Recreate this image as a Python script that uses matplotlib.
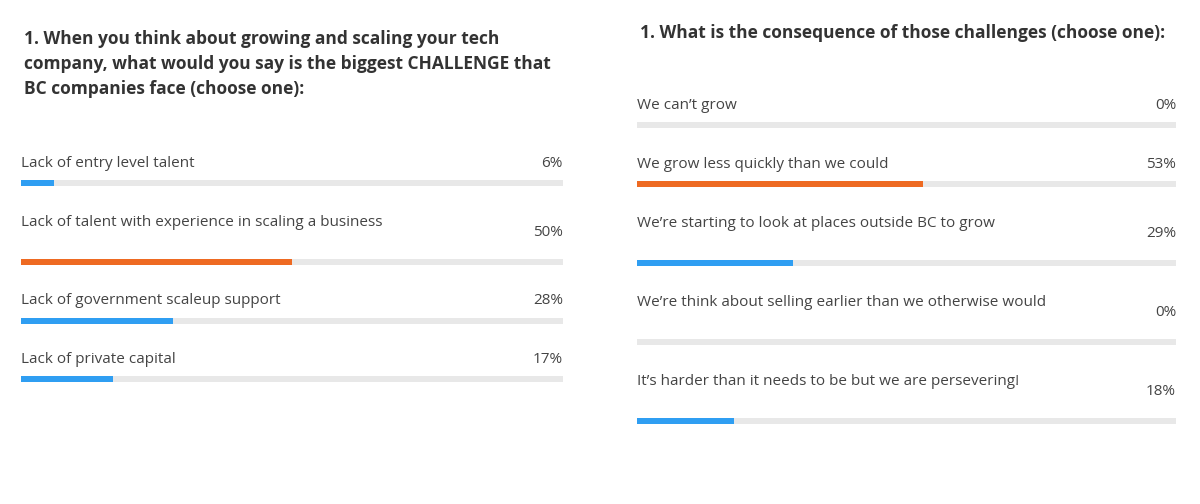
import matplotlib
matplotlib.use("Agg")
import matplotlib.pyplot as plt

plt.rcParams['font.family'] = ['Open Sans', 'DejaVu Sans']

# Dati del sondaggio (pannello sinistro)
left_title = ("1. When you think about growing and scaling your tech\n"
              "company, what would you say is the biggest CHALLENGE that\n"
              "BC companies face (choose one):")
left_labels = ["Lack of entry level talent",
               "Lack of talent with experience in scaling a business",
               "Lack of government scaleup support",
               "Lack of private capital"]
left_values = [6, 50, 28, 17]
left_tall = [False, True, False, False]

# Dati del sondaggio (pannello destro)
right_title = "1. What is the consequence of those challenges (choose one):"
right_labels = ["We can\u2019t grow",
                "We grow less quickly than we could",
                "We\u2019re starting to look at places outside BC to grow",
                "We\u2019re think about selling earlier than we otherwise would",
                "It\u2019s harder than it needs to be but we are persevering!"]
right_values = [0, 53, 29, 0, 18]
right_tall = [False, False, True, True, True]

BLUE = '#2f9ef2'
ORANGE = '#ee6a22'
TRACK = '#e8e8e8'
TEXT = '#444444'
TITLE = '#333333'

W, H = 1200, 504
fig = plt.figure(figsize=(W / 100, H / 100), dpi=100)


def draw_panel(x0, width, first_track, title, title_y, labels, values, tall):
    ax = fig.add_axes([x0 / W, 0, width / W, 1])
    ax.set_xlim(0, 100)
    ax.set_ylim(H, 0)  # y in pixel, dall'alto
    ax.axis('off')

    # posizione delle barre: riga alta se l'etichetta va a capo
    ys = []
    y = first_track
    for i, t in enumerate(tall):
        if i > 0:
            y += 79 if t else 58.5
        ys.append(y)

    top = max(values)
    colors = [ORANGE if v == top else BLUE for v in values]
    ax.barh(ys, [100] * len(ys), height=6, color=TRACK)
    ax.barh(ys, values, height=6, color=colors)

    for yy, lab, v, t in zip(ys, labels, values, tall):
        ax.text(0, yy - (39 if t else 19.5), lab, fontsize=11, color=TEXT,
                va='center', ha='left')
        ax.text(100, yy - (29 if t else 19.5), f'{v}%', fontsize=11, color=TEXT,
                va='center', ha='right')

    ax.text(0.6, title_y, title, fontsize=12.5, fontweight='bold', color=TITLE,
            va='top', ha='left', linespacing=1.52)


draw_panel(21, 542, 183, left_title, 29.5, left_labels, left_values, left_tall)
draw_panel(637, 539, 125, right_title, 24, right_labels, right_values, right_tall)

fig.savefig('out.png', dpi=100, facecolor='white')
